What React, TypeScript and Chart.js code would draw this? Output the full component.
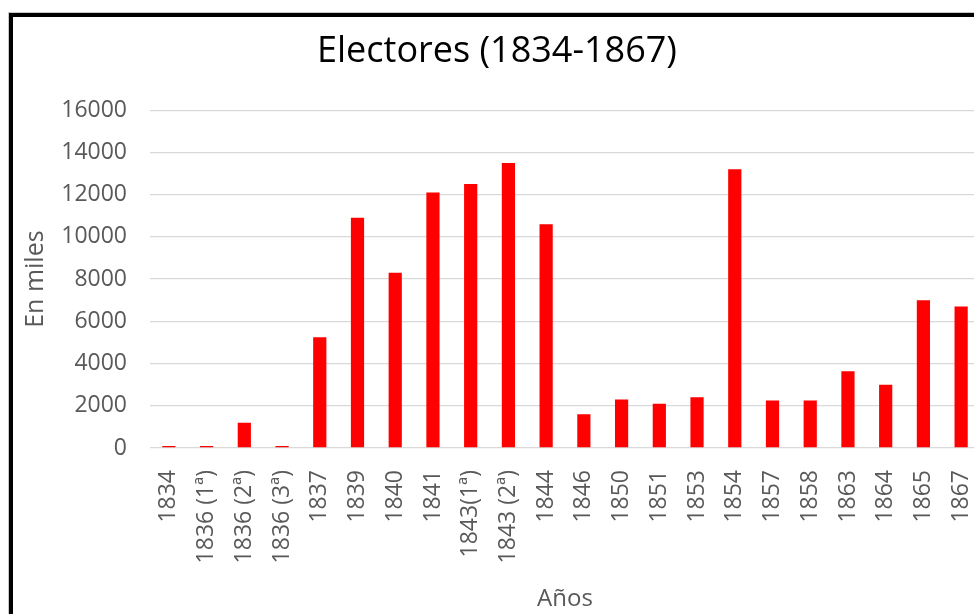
import React, { useEffect, useRef } from "react";
import { Chart, registerables } from "chart.js";

Chart.register(...registerables);

const categories: string[] = [
  "1834", "1836 (1ª)", "1836 (2ª)", "1836 (3ª)", "1837", "1839", "1840", "1841",
  "1843(1ª)", "1843 (2ª)", "1844", "1846", "1850", "1851", "1853", "1854",
  "1857", "1858", "1863", "1864", "1865", "1867",
];

const electores: number[] = [
  100, 100, 1200, 100, 5250, 10900, 8300, 12100,
  12500, 13500, 10600, 1600, 2300, 2100, 2400, 13200,
  2250, 2250, 3630, 3000, 7000, 6700,
];

const chartTitle = "Electores (1834-1867)";
const yTitle = "En miles";
const xTitle = "Años";

const FONT = "'Open Sans', 'Liberation Sans', sans-serif";

export default function App() {
  const ref = useRef<HTMLCanvasElement | null>(null);

  useEffect(() => {
    if (!ref.current) return;
    const chart = new Chart(ref.current, {
      type: "bar",
      data: {
        labels: categories,
        datasets: [
          {
            label: "Electores",
            data: electores,
            backgroundColor: "#ff0000",
            borderWidth: 0,
            categoryPercentage: 1,
            barPercentage: 0.35,
          },
        ],
      },
      options: {
        responsive: false,
        animation: false,
        layout: { padding: { left: 14, right: 40, top: 0, bottom: 0 } },
        plugins: {
          legend: { display: false },
          tooltip: { enabled: false },
          title: {
            display: true,
            text: chartTitle,
            color: "#000000",
            font: { family: FONT, size: 36, weight: "normal", lineHeight: 1.2 },
            padding: { top: 30, bottom: 37 },
          },
        },
        scales: {
          x: {
            grid: { display: false },
            border: { display: false },
            ticks: {
              autoSkip: false,
              maxRotation: 90,
              minRotation: 90,
              padding: 14,
              color: "#595959",
              font: { family: FONT, size: 23 },
            },
            title: {
              display: true,
              text: xTitle,
              color: "#595959",
              font: { family: FONT, size: 24, lineHeight: 1.2 },
              padding: { top: 0, bottom: 0 },
            },
            afterFit: (scale: any) => {
              scale.height = 166;
            },
          },
          y: {
            min: 0,
            max: 16000,
            grid: { color: "#d9d9d9", lineWidth: 1.3, drawTicks: false },
            border: { display: false },
            ticks: {
              stepSize: 2000,
              padding: 23,
              color: "#595959",
              font: { family: FONT, size: 23 },
              callback: (v: any) => String(v),
            },
            title: {
              display: true,
              text: yTitle,
              color: "#595959",
              font: { family: FONT, size: 25, lineHeight: 1.2 },
              padding: { top: 7, bottom: 0 },
            },
            afterFit: (scale: any) => {
              scale.width = 136;
            },
          },
        },
      },
    });
    return () => chart.destroy();
  }, []);

  return (
    <div
      style={{
        position: "fixed",
        left: 0,
        top: 0,
        width: 974,
        height: 614,
        overflow: "hidden",
        background: "#ffffff",
      }}
    >
      <canvas
        ref={ref}
        width={1020}
        height={614}
        style={{ position: "absolute", left: 0, top: 0, width: 1020, height: 614 }}
      />
      <div
        style={{
          position: "absolute",
          left: 9,
          top: 13,
          width: 1100,
          height: 800,
          border: "4px solid #000000",
          boxShadow: "0 0 0 1px #c8c8c8",
          pointerEvents: "none",
        }}
      />
    </div>
  );
}
